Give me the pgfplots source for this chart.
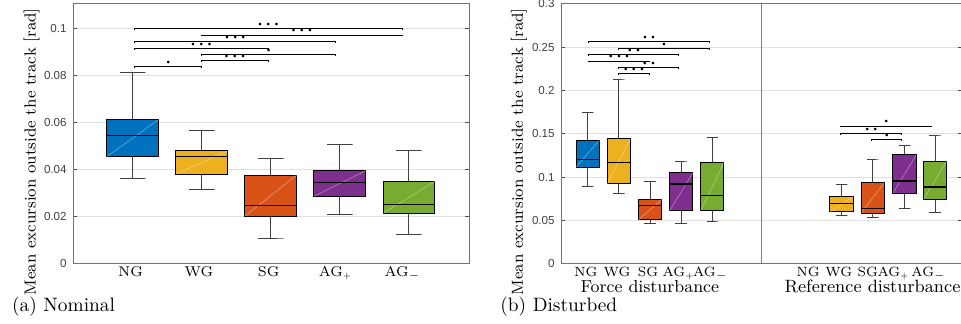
\documentclass[border=0pt]{standalone}
\usepackage{fontspec}
\usepackage{pgfplots}
\pgfplotsset{compat=1.18}
\newfontfamily\ticksf{Liberation Sans}
\definecolor{cNG}{RGB}{0,114,189}
\definecolor{cWG}{RGB}{237,177,32}
\definecolor{cSG}{RGB}{217,83,25}
\definecolor{cAP}{RGB}{126,47,142}
\definecolor{cAM}{RGB}{119,172,48}
\pgfplotsset{
  myax/.style={scale only axis,
    axis line style={black!55, line width=0.5pt},
    tick align=inside, ytick pos=both, xtick pos=bottom,
    major tick length=2pt,
    xtick style={draw=none},
    ytick style={black!70, line width=0.5pt},
    ymajorgrids, grid style={black!12, line width=0.5pt},
    yticklabel style={font=\ticksf\fontsize{5.8}{7}\selectfont, text=black!75, inner sep=0pt, anchor=east, xshift=-3pt},
    xticklabel style={font=\fontsize{7.1}{8}\selectfont, text=black, anchor=base, inner sep=0pt, yshift=-6.4pt},
    ylabel style={font=\fontsize{8.0}{9}\selectfont, anchor=center},
    clip=false}
}
\newcommand{\pl}{\fontsize{4.0}{5}\selectfont}
\newcommand{\AGp}{AG\raisebox{-0.25ex}{\pl+}}
\newcommand{\AGm}{AG\raisebox{-0.25ex}{\pl$-$}}
% box: position, lower whisker, lower quartile, median, upper quartile, upper whisker, colour
\newcommand{\mybox}[7]{%
  \addplot[black!75, line width=0.5pt]
    table[row sep=\\, x expr={#1+\thisrow{d}}, y=y] {d y\\ -0.185 #2\\ 0.185 #2\\ 0 #2\\ 0 #3\\};
  \addplot[black!75, line width=0.5pt]
    table[row sep=\\, x expr={#1+\thisrow{d}}, y=y] {d y\\ -0.185 #6\\ 0.185 #6\\ 0 #6\\ 0 #5\\};
  \addplot[draw=black, line width=0.5pt, fill=#7]
    table[row sep=\\, x expr={#1+\thisrow{d}}, y=y] {d y\\ -0.375 #3\\ 0.375 #3\\ 0.375 #5\\ -0.375 #5\\ -0.375 #3\\} -- cycle;
  \addplot[white, opacity=0.45, line width=0.25pt]
    table[row sep=\\, x expr={#1+\thisrow{d}}, y=y] {d y\\ -0.375 #3\\ 0.375 #5\\};
  \addplot[black, line width=0.6pt]
    table[row sep=\\, x expr={#1+\thisrow{d}}, y=y] {d y\\ -0.375 #4\\ 0.375 #4\\};
}
% bracket: x1, x2, y, stars, end drop
\newcommand{\mybr}[5]{%
  \addplot[black, line width=0.5pt]
    table[row sep=\\, x=x, y expr={#3-\thisrow{t}*#5}] {x t\\ #1 1\\ #1 0\\ #2 0\\ #2 1\\};
  \node[anchor=base, inner sep=0pt, yshift=1.1pt, font=\fontsize{4.6}{4.6}\selectfont]
    at (axis cs:{(#1+#2)/2},#3) {#4};
}
\newcommand{\sA}{\textbullet}
\newcommand{\sB}{\textbullet\kern-0.14em\textbullet}
\newcommand{\sC}{\textbullet\kern-0.14em\textbullet\kern-0.14em\textbullet}
\begin{document}
\begin{tikzpicture}
\useasboundingbox (0,0) rectangle (480.5pt,162pt);
% ---------------- (a) Nominal
\begin{axis}[myax, at={(36.5pt,30pt)}, anchor=south west,
  width=198pt, height=130pt,
  xmin=0.136, xmax=5.87, ymin=0, ymax=0.1102,
  xtick={0.97,1.96,2.97,3.93,4.9},
  xticklabels={NG,WG,SG,\AGp,\AGm},
  ytick={0,0.02,0.04,0.06,0.08,0.1},
  yticklabels={0,0.02,0.04,0.06,0.08,0.1},
  ylabel={Mean excursion outside the track [rad]},
  ylabel style={at={(axis description cs:-0.1048,0.431)}}]
\mybox{1}{0.0362}{0.0455}{0.0544}{0.0612}{0.0811}{cNG}
\mybox{2}{0.0316}{0.0381}{0.0455}{0.0479}{0.0564}{cWG}
\mybox{3}{0.0106}{0.0203}{0.0249}{0.0377}{0.0446}{cSG}
\mybox{4}{0.0208}{0.0287}{0.0346}{0.0395}{0.0506}{cAP}
\mybox{5}{0.0126}{0.0215}{0.0251}{0.0350}{0.0483}{cAM}
\mybr{1.03}{4.9}{0.0998}{\sC}{0.00055}
\mybr{2.0}{4.9}{0.0970}{\sC}{0.00055}
\mybr{1.03}{3.94}{0.0943}{\sC}{0.00055}
\mybr{1.03}{2.96}{0.0914}{\sC}{0.00055}
\mybr{2.0}{3.94}{0.0889}{\sA}{0.00055}
\mybr{2.0}{2.96}{0.0861}{\sC}{0.00055}
\mybr{1.03}{2.0}{0.0835}{\sA}{0.00055}
\end{axis}
% ---------------- (b) Disturbed
\begin{axis}[myax, at={(280.5pt,30pt)}, anchor=south west,
  width=200.25pt, height=130pt,
  xmin=0.143, xmax=13.0, ymin=0, ymax=0.3,
  xtick={0.94,1.94,2.94,3.9,4.92,8.08,9.06,9.99,10.8,11.93},
  xticklabels={NG,WG,SG,\AGp,\AGm,NG,WG,SG,\AGp,\AGm},
  xticklabel style={font=\fontsize{6.7}{8}\selectfont},
  ytick={0,0.05,0.1,0.15,0.2,0.25,0.3},
  yticklabels={0,0.05,0.1,0.15,0.2,0.25,0.3},
  ylabel={Mean excursion outside the track [rad]},
  ylabel style={at={(axis description cs:-0.1049,0.431)}}]
\addplot[black!50, line width=0.5pt] coordinates {(6.59,0) (6.59,0.3)};
\mybox{1}{0.0892}{0.1119}{0.1208}{0.1427}{0.1746}{cNG}
\mybox{2}{0.0808}{0.0923}{0.1169}{0.1446}{0.2123}{cWG}
\mybox{3}{0.0465}{0.0508}{0.0677}{0.0742}{0.0954}{cSG}
\mybox{4}{0.0469}{0.0612}{0.0923}{0.1050}{0.1177}{cAP}
\mybox{5}{0.0496}{0.0615}{0.0792}{0.1169}{0.1462}{cAM}
\mybox{9.15}{0.0562}{0.0600}{0.0700}{0.0777}{0.0919}{cWG}
\mybox{10.15}{0.0542}{0.0588}{0.0642}{0.0938}{0.1200}{cSG}
\mybox{11.17}{0.0642}{0.0815}{0.0958}{0.1258}{0.1369}{cAP}
\mybox{12.15}{0.0592}{0.0746}{0.0888}{0.1185}{0.1477}{cAM}
\mybr{1.04}{4.9}{0.2565}{\sB}{0.0015}
\mybr{2.0}{4.9}{0.2488}{\sA}{0.0015}
\mybr{1.04}{3.93}{0.2419}{\sB}{0.0015}
\mybr{1.04}{2.97}{0.2342}{\sC}{0.0015}
\mybr{2.0}{3.93}{0.2265}{\sB}{0.0015}
\mybr{2.0}{2.97}{0.2196}{\sC}{0.0015}
\mybr{9.13}{12.04}{0.1592}{\sA}{0.0015}
\mybr{9.13}{11.08}{0.1508}{\sB}{0.0015}
\mybr{10.12}{11.08}{0.1438}{\sA}{0.0015}
\end{axis}
\node[anchor=base, inner sep=0pt, font=\fontsize{8.7}{9}\selectfont] at (324.9pt,15.9pt) {Force disturbance};
\node[anchor=base, inner sep=0pt, font=\fontsize{8.9}{9}\selectfont] at (436.25pt,15.9pt) {Reference disturbance};
\node[anchor=base west, inner sep=0pt, font=\fontsize{9.7}{10}\selectfont] at (5.85pt,6.3pt) {(a) Nominal};
\node[anchor=base west, inner sep=0pt, font=\fontsize{9.7}{10}\selectfont] at (250pt,6.3pt) {(b) Disturbed};
\end{tikzpicture}
\end{document}
